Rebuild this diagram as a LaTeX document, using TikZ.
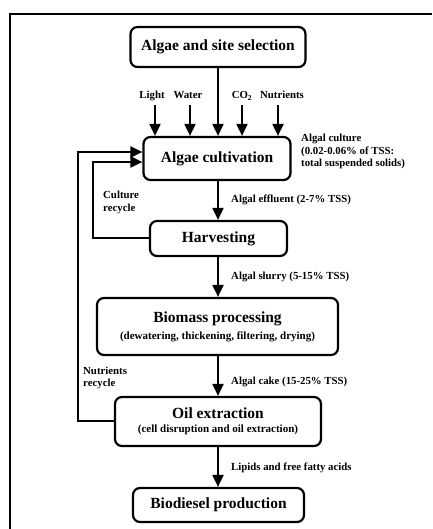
\documentclass[tikz,border=0pt]{standalone}
\usepackage{fontspec}
\setmainfont{Liberation Serif}
\usetikzlibrary{arrows.meta}
\begin{document}
\begin{tikzpicture}[x=1pt,y=-1pt,
  box/.style={draw,line width=2.2pt,rounded corners=7pt,inner sep=0pt,align=center,font=\bfseries\fontsize{15.5}{17}\selectfont},
  lab/.style={inner sep=0pt,align=left,font=\bfseries\fontsize{10.8}{12.5}\selectfont},
  arr/.style={line width=2pt,-{Triangle[length=12pt,width=11pt]}},
  line/.style={line width=2pt}]
\useasboundingbox (0,0) rectangle (432,529);
\draw[line width=2pt] (10,529) -- (10,14) -- (432,14);

\node[box,minimum width=175pt,minimum height=40pt] (sel) at (218,47) {Algae and site selection};
\node[box,minimum width=147pt,minimum height=43pt] (cult) at (217,158.5) {Algae cultivation};
\node[box,minimum width=137pt,minimum height=35pt] (harv) at (218.5,238.5) {Harvesting};
\node[box,minimum width=241pt,minimum height=57pt] (bio) at (217.5,326.5) {Biomass processing\\[0pt]{\bfseries\fontsize{11}{13}\selectfont(dewatering, thickening, filtering, drying)}};
\node[box,minimum width=206pt,minimum height=49pt] (oil) at (218,421.5) {Oil extraction\\[-3pt]{\bfseries\fontsize{11}{13}\selectfont(cell disruption and oil extraction)}};
\node[box,minimum width=171pt,minimum height=34pt] (bd) at (218.5,505) {Biodiesel production};

% inputs
\node[lab,anchor=base] (light) at (152,99) {Light};
\node[lab,anchor=base] (water) at (188,99) {Water};
\node[lab,anchor=base] (co2) at (242,99) {CO\textsubscript{2}};
\node[lab,anchor=base] (nutr) at (282,99) {Nutrients};
\coordinate (lightS) at (155,105);
\coordinate (waterS) at (190,105);
\coordinate (co2S) at (242,105);
\coordinate (nutrS) at (278,105);
\draw[arr] (lightS) -- (lightS |- cult.north);
\draw[arr] (waterS) -- (waterS |- cult.north);
\draw[arr] (co2S) -- (co2S |- cult.north);
\draw[arr] (nutrS) -- (nutrS |- cult.north);
\draw[arr] (sel.south) -- (sel.south |- cult.north);

% main flow
\draw[arr] (cult.south -| 218,0) -- (harv.north -| 218,0);
\draw[arr] (harv.south -| 218,0) -- (bio.north -| 218,0);
\draw[arr] (bio.south -| 218,0) -- (oil.north -| 218,0);
\draw[arr] (oil.south -| 218,0) -- (bd.north -| 218,0);

% labels
\node[lab,anchor=north west] (culture) at (301,134) {Algal culture\\(0.02-0.06\% of TSS:\\total suspended solids)};
\node[lab,anchor=west] (eff) at (231,200) {Algal effluent (2-7\% TSS)};
\node[lab,anchor=west] (slurry) at (231,277) {Algal slurry (5-15\% TSS)};
\node[lab,anchor=west] (cake) at (231,382) {Algal cake (15-25\% TSS)};
\node[lab,anchor=west] (lipids) at (231,468) {Lipids and free fatty acids};
\node[lab,anchor=west,font=\bfseries\fontsize{10.8}{13}\selectfont] (crec) at (103,202.5) {Culture\\recycle};
\node[lab,anchor=west,font=\bfseries\fontsize{10.8}{12.5}\selectfont] (nrec) at (83,378) {Nutrients\\recycle};

% recycles
\coordinate (hl) at (harv.west |- 0,238);
\coordinate (ol) at (oil.west |- 0,421);
\draw[arr] (hl) -| (93,162) -- (cult.west |- 0,162);
\draw[arr] (ol) -| (78,152) -- (cult.west |- 0,152);
\end{tikzpicture}
\end{document}
